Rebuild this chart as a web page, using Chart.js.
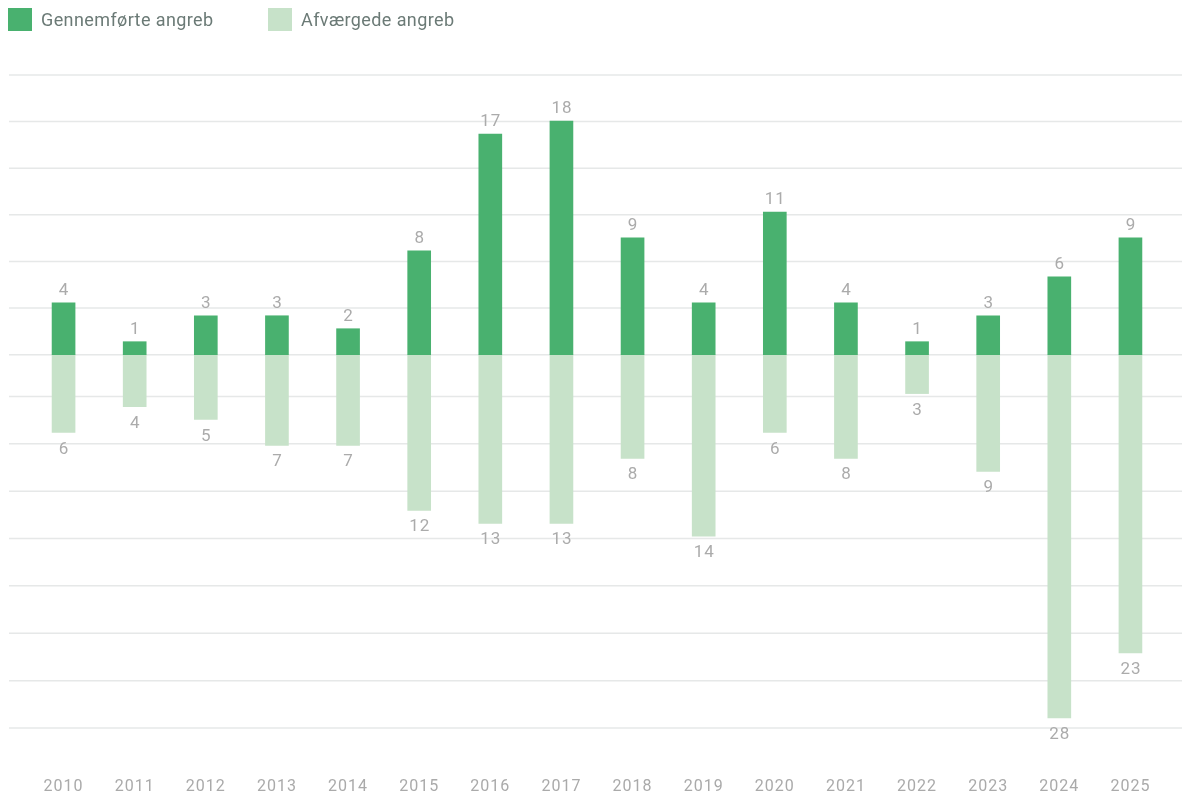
<!DOCTYPE html>
<html><head><meta charset="utf-8">
<script src="https://cdn.jsdelivr.net/npm/chart.js@4"></script>
<style>
html,body{margin:0;padding:0;background:#fff;}
#wrap{position:relative;width:1183px;height:797px;overflow:hidden;}
canvas{position:absolute;left:0;top:0;}
#legend{position:absolute;left:0;top:0;font-family:Roboto,"Noto Sans",sans-serif;font-size:18px;letter-spacing:0.4px;color:#6b7a76;}
.item{position:absolute;top:8px;height:23px;display:flex;align-items:center;white-space:nowrap;}
.sw{width:24px;height:23px;margin-right:9px;flex:none;}
</style></head>
<body>
<div id="wrap"><canvas id="c" width="1183" height="797"></canvas><div id="legend"></div></div>
<script>
const years = ['2010','2011','2012','2013','2014','2015','2016','2017','2018','2019','2020','2021','2022','2023','2024','2025'];
const gennemfoerte = [4, 1, 3, 3, 2, 8, 17, 18, 9, 4, 11, 4, 1, 3, 6, 9];
const afvaergede = [6, 4, 5, 7, 7, 12, 13, 13, 8, 14, 6, 8, 3, 9, 28, 23];
const seriesNames = ['Gennemførte angreb', 'Afværgede angreb'];
const seriesColors = ['#49b16f', '#c7e2c9'];
const gridValues = [21.56, 17.97, 14.37, 10.78, 7.19, 3.6, 0, -3.22, -6.87, -10.52, -14.17, -17.82, -21.48, -25.13, -28.78];
const legendX = [8, 268];

// HTML legend
const legendEl = document.getElementById('legend');
seriesNames.forEach((n, i) => {
  const it = document.createElement('div');
  it.className = 'item';
  it.style.left = legendX[i] + 'px';
  const sw = document.createElement('span');
  sw.className = 'sw';
  sw.style.background = seriesColors[i];
  const tx = document.createElement('span');
  tx.textContent = n;
  it.appendChild(sw); it.appendChild(tx);
  legendEl.appendChild(it);
});

const spacingPlugin = {
  id: 'spacing',
  beforeDraw(chart) { chart.ctx.letterSpacing = '1px'; }
};

const gridPlugin = {
  id: 'fullGrid',
  beforeDatasetsDraw(chart) {
    const ctx = chart.ctx, y = chart.scales.y;
    ctx.save();
    ctx.strokeStyle = '#e6e8e8';
    ctx.lineWidth = 1.5;
    gridValues.forEach(v => {
      const py = y.getPixelForValue(v);
      ctx.beginPath();
      ctx.moveTo(9, py);
      ctx.lineTo(1182, py);
      ctx.stroke();
    });
    ctx.restore();
  }
};

const valuePlugin = {
  id: 'valueLabels',
  afterDatasetsDraw(chart) {
    const ctx = chart.ctx;
    ctx.save();
    ctx.letterSpacing = '1px';
    ctx.font = '17px Roboto, "Noto Sans", sans-serif';
    ctx.fillStyle = '#ababab';
    ctx.textAlign = 'center';
    ctx.textBaseline = 'alphabetic';
    chart.data.datasets.forEach((ds, i) => {
      const meta = chart.getDatasetMeta(i);
      meta.data.forEach((bar, j) => {
        const v = ds.data[j];
        const t = String(Math.abs(v));
        if (v >= 0) ctx.fillText(t, bar.x + 0.5, bar.y - 8);
        else ctx.fillText(t, bar.x + 0.5, bar.y + 21);
      });
    });
    ctx.restore();
  }
};

new Chart(document.getElementById('c'), {
  type: 'bar',
  data: {
    labels: years,
    datasets: [
      { label: seriesNames[0], data: gennemfoerte, backgroundColor: seriesColors[0], barThickness: 23 },
      { label: seriesNames[1], data: afvaergede.map(v => -v), backgroundColor: seriesColors[1], barThickness: 23 }
    ]
  },
  options: {
    responsive: false,
    animation: false,
    devicePixelRatio: 1,
    layout: { padding: { top: 75, left: 28, right: 17, bottom: 0 } },
    plugins: { legend: { display: false }, tooltip: { enabled: false } },
    scales: {
      x: {
        stacked: true,
        grid: { display: false, drawTicks: false },
        border: { display: false },
        ticks: { color: '#aaaaaa', font: { family: 'Roboto, "Noto Sans", sans-serif', size: 16 }, padding: 49 },
        afterFit(scale) { scale.height = 69; scale.paddingLeft = 0; scale.paddingRight = 0; }
      },
      y: {
        stacked: true,
        display: false,
        min: gridValues[gridValues.length - 1],
        max: gridValues[0]
      }
    }
  },
  plugins: [spacingPlugin, gridPlugin, valuePlugin]
});
</script>
</body></html>
